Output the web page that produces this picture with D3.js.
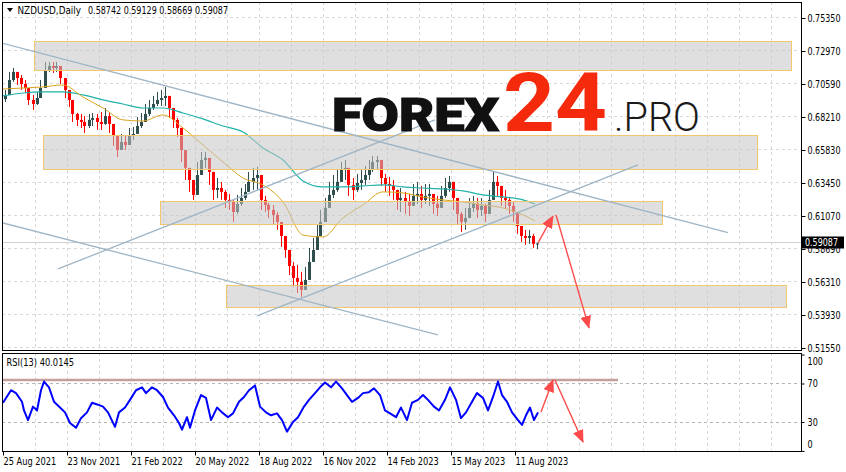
<!DOCTYPE html>
<html><head><meta charset="utf-8">
<script src="https://cdn.jsdelivr.net/npm/d3@7"></script>
<style>body{margin:0;background:#fff;}svg{display:block;}</style>
</head><body>
<svg id="c" width="846" height="472"></svg>
<script>
// ---------------- DATA ----------------
const symbolTitle = "NZDUSD,Daily";
const headerQuote = ["0.58742", "0.59129", "0.58669", "0.59087"];
const currentPrice = 0.59087;
const rsiTitle = "RSI(13) 40.0145";

const dateTickDays = [0, 64, 128, 192, 256, 320, 384, 448, 512];
const dateLabels = ["25 Aug 2021", "23 Nov 2021", "21 Feb 2022", "20 May 2022", "18 Aug 2022",
  "16 Nov 2022", "14 Feb 2023", "15 May 2023", "11 Aug 2023"];
const priceTicks = [0.75350, 0.72970, 0.70590, 0.68210, 0.65830, 0.63450, 0.61070, 0.58690, 0.56310, 0.53930, 0.51550];
const rsiTicks = [0, 30, 70, 100];
const rsiLevels = [30, 70];

// price bars, each one covering 4 trading days
const daysPerBar = 4;
const firstOpen = 0.6950;
const closes = [0.6980,0.7088,0.7146,0.7102,0.7059,0.7030,0.6944,0.6915,0.6958,0.7030,
0.7160,0.7189,0.7175,0.7189,0.7102,0.7016,0.6944,0.6843,0.6800,0.6785,
0.6756,0.6800,0.6814,0.6785,0.6771,0.6828,0.6771,0.6691,0.6583,0.6641,
0.6619,0.6684,0.6699,0.6756,0.6785,0.6843,0.6886,0.6915,0.6944,0.6958,
0.6973,0.6886,0.6800,0.6742,0.6583,0.6454,0.6367,0.6259,0.6403,0.6511,
0.6526,0.6425,0.6295,0.6309,0.6281,0.6223,0.6208,0.6136,0.6194,0.6237,
0.6281,0.6353,0.6381,0.6403,0.6223,0.6187,0.6151,0.6115,0.6064,0.5963,
0.5862,0.5747,0.5660,0.5632,0.5574,0.5646,0.5776,0.5862,0.5963,0.6064,
0.6165,0.6259,0.6295,0.6353,0.6439,0.6454,0.6331,0.6295,0.6345,0.6367,
0.6403,0.6439,0.6497,0.6511,0.6381,0.6338,0.6324,0.6295,0.6223,0.6237,
0.6208,0.6180,0.6252,0.6266,0.6223,0.6252,0.6266,0.6194,0.6165,0.6252,
0.6309,0.6353,0.6237,0.6122,0.6064,0.6093,0.6165,0.6194,0.6151,0.6180,
0.6122,0.6223,0.6353,0.6324,0.6237,0.6223,0.6180,0.6136,0.6035,0.5963,
0.5949,0.5963,0.5906,0.5909];
const highs = [0.7016,0.7146,0.7175,0.7146,0.7124,0.7088,0.7002,0.6980,0.7002,0.7088,
0.7218,0.7218,0.7218,0.7218,0.7160,0.7059,0.7002,0.6900,0.6850,0.6843,
0.6828,0.6843,0.6850,0.6843,0.6857,0.6886,0.6857,0.6749,0.6655,0.6699,
0.6691,0.6742,0.6749,0.6821,0.6850,0.6915,0.6944,0.6973,0.7002,0.7016,
0.7038,0.6958,0.6872,0.6814,0.6691,0.6547,0.6439,0.6353,0.6497,0.6569,
0.6569,0.6497,0.6403,0.6381,0.6353,0.6295,0.6266,0.6223,0.6259,0.6309,
0.6338,0.6425,0.6454,0.6461,0.6295,0.6252,0.6201,0.6187,0.6136,0.6035,
0.5934,0.5826,0.5776,0.5754,0.5704,0.5740,0.5877,0.5949,0.6043,0.6151,
0.6237,0.6353,0.6403,0.6439,0.6497,0.6511,0.6418,0.6381,0.6410,0.6439,
0.6468,0.6511,0.6540,0.6540,0.6454,0.6410,0.6389,0.6367,0.6295,0.6309,
0.6281,0.6266,0.6338,0.6353,0.6324,0.6338,0.6338,0.6266,0.6252,0.6324,
0.6381,0.6396,0.6309,0.6223,0.6136,0.6165,0.6237,0.6252,0.6237,0.6237,
0.6194,0.6295,0.6425,0.6396,0.6309,0.6295,0.6237,0.6208,0.6122,0.6021,
0.6007,0.6007,0.5978,0.5913];
const lows = [0.6929,0.6980,0.7074,0.7052,0.7016,0.6994,0.6908,0.6872,0.6908,0.6965,
0.7088,0.7146,0.7139,0.7146,0.7059,0.6958,0.6893,0.6785,0.6756,0.6742,
0.6706,0.6742,0.6756,0.6728,0.6728,0.6764,0.6706,0.6612,0.6533,0.6583,
0.6583,0.6634,0.6655,0.6706,0.6742,0.6800,0.6828,0.6872,0.6900,0.6900,
0.6900,0.6814,0.6742,0.6677,0.6497,0.6367,0.6281,0.6223,0.6331,0.6439,
0.6454,0.6331,0.6223,0.6237,0.6223,0.6165,0.6151,0.6064,0.6122,0.6180,
0.6223,0.6281,0.6295,0.6295,0.6151,0.6136,0.6093,0.6043,0.6007,0.5884,
0.5805,0.5682,0.5596,0.5552,0.5523,0.5574,0.5704,0.5805,0.5898,0.6007,
0.6093,0.6201,0.6237,0.6281,0.6353,0.6367,0.6252,0.6223,0.6281,0.6295,
0.6331,0.6367,0.6425,0.6439,0.6324,0.6281,0.6252,0.6223,0.6151,0.6136,
0.6122,0.6107,0.6180,0.6194,0.6165,0.6194,0.6180,0.6122,0.6107,0.6180,
0.6237,0.6281,0.6151,0.6050,0.5992,0.6007,0.6107,0.6136,0.6093,0.6107,
0.6064,0.6151,0.6266,0.6252,0.6180,0.6165,0.6122,0.6064,0.5978,0.5920,
0.5898,0.5906,0.5877,0.5867];

// moving averages
const maDays = [0,20,40,60,80,100,120,140,160,180,200,220,240,260,280,300,320,340,360,380,400,420,440,460,480,500,520,532];
const maFast = [0.7023,0.7030,0.7038,0.7052,0.6965,0.6886,0.6800,0.6792,0.6836,0.6742,0.6619,0.6497,0.6381,0.6331,0.6208,0.5970,0.5956,0.6093,0.6187,0.6281,0.6273,0.6244,0.6223,0.6208,0.6187,0.6165,0.6115,0.6071];
const maSlow = [0.6973,0.6994,0.7002,0.7002,0.6980,0.6944,0.6915,0.6886,0.6886,0.6850,0.6807,0.6756,0.6713,0.6598,0.6511,0.6360,0.6317,0.6317,0.6324,0.6331,0.6317,0.6309,0.6302,0.6288,0.6259,0.6245,0.6223,0.6194];

// RSI(13)
const rsiDays = [0,8,13,19,21,25,30,34,38,41,46,51,57,62,67,73,78,84,89,95,100,105,112,116,122,127,133,139,143,149,154,160,165,171,176,179,184,187,192,198,203,208,214,219,225,230,236,241,246,252,257,263,268,274,279,284,290,295,301,306,312,317,322,328,333,339,344,349,355,360,366,371,377,382,387,393,398,404,409,415,420,425,431,436,442,447,453,458,463,469,474,480,485,490,495,499,504,509,515,519,523,527,531,535];
const rsiValues = [50,63,60,51,42,32,46,42,63,72,66,51,45,40,29,24,34,40,50,48,46,40,25,40,45,53,63,66,60,66,63,56,45,37,29,22,35,24,42,58,55,32,45,40,35,39,51,56,63,68,46,40,37,39,32,20,30,35,46,53,60,66,71,66,72,65,58,51,55,60,61,65,58,42,39,35,45,32,50,53,58,53,46,42,53,66,53,34,40,51,60,55,42,56,72,58,51,40,32,27,37,45,32,40.01];

// drawn objects: support / resistance zones
const zoneStartDays = [31, 40, 157, 223];
const zoneEndDays = [788, 754, 659, 783];
const zoneTops = [0.7371, 0.6689, 0.6213, 0.5610];
const zoneBottoms = [0.7165, 0.6446, 0.6048, 0.5449];
// trend lines
const trendFromDays = [-3, -3, 55, 254];
const trendFromPrices = [0.7357, 0.6062, 0.5725, 0.5386];
const trendToDays = [725, 435, 432, 635];
const trendToPrices = [0.5987, 0.5249, 0.6800, 0.6475];
// forecast arrows (price panel)
const arrowFromDays = [535, 553];
const arrowFromPrices = [0.5913, 0.6115];
const arrowToDays = [550, 586];
const arrowToPrices = [0.6107, 0.5300];
// forecast arrows (RSI panel)
const rsiArrowFromDays = [538, 552];
const rsiArrowFromValues = [40.4, 73.7];
const rsiArrowToDays = [550, 580];
const rsiArrowToValues = [73.7, 9.2];
const rsiResistance = 73.7;
const rsiResistanceDays = [-3, 615];

// ---------------- LAYOUT ----------------
const svg = d3.select("#c");
const L = 2, R = 801, mainT = 2, mainB = 350, rsiT = 353, rsiB = 451;
const x = d3.scaleLinear().domain([0, 798]).range([3, 801]);
const y = d3.scaleLinear().domain([0.5155, 0.7535]).range([348, 18]);
const yr = d3.scaleLinear().domain([0, 100]).range([450.9, 354.6]);
const FONT = "'DejaVu Sans', Verdana, sans-serif";
const FS = 9.6;
const gridCol = "#d9d9d9";
const squeeze = (sel, k) => sel.each(function () {
  const w = this.getComputedTextLength();
  d3.select(this).attr("textLength", w * k).attr("lengthAdjust", "spacingAndGlyphs");
});
const fitTo = (sel, w) => sel.attr("textLength", w).attr("lengthAdjust", "spacingAndGlyphs");

const defs = svg.append("defs");
defs.append("clipPath").attr("id", "clipMain").append("rect")
  .attr("x", L + 0.5).attr("y", mainT + 0.5).attr("width", R - L - 1).attr("height", mainB - mainT - 1);
defs.append("clipPath").attr("id", "clipRsi").append("rect")
  .attr("x", L + 0.5).attr("y", rsiT + 0.5).attr("width", R - L - 1).attr("height", rsiB - rsiT - 1);
defs.append("marker").attr("id", "ah").attr("markerUnits", "userSpaceOnUse")
  .attr("markerWidth", 13).attr("markerHeight", 11).attr("refX", 12).attr("refY", 5.5)
  .attr("orient", "auto").append("path").attr("d", "M0,0 L13,5.5 L0,11 Z").attr("fill", "#ff4a4a");

// background
svg.append("rect").attr("width", 846).attr("height", 472).attr("fill", "#fff");

// grids
const gMain = svg.append("g").attr("clip-path", "url(#clipMain)");
const gRsi = svg.append("g").attr("clip-path", "url(#clipRsi)");
const gridDays = d3.range(32, 800, 32);
[gMain, gRsi].forEach((g, k) => {
  g.selectAll("line.vg").data(gridDays).enter().append("line")
    .attr("x1", d => Math.round(x(d)) + 0.5).attr("x2", d => Math.round(x(d)) + 0.5)
    .attr("y1", k ? rsiT : mainT).attr("y2", k ? rsiB : mainB)
    .attr("stroke", gridCol).attr("stroke-dasharray", "3,3");
});
gMain.selectAll("line.hg").data(priceTicks).enter().append("line")
  .attr("x1", L).attr("x2", R).attr("y1", d => Math.round(y(d)) - 0.5).attr("y2", d => Math.round(y(d)) - 0.5)
  .attr("stroke", gridCol).attr("stroke-dasharray", "3,3");
gRsi.selectAll("line.lv").data(rsiLevels).enter().append("line")
  .attr("x1", L).attr("x2", R).attr("y1", d => Math.round(yr(d)) + 0.5).attr("y2", d => Math.round(yr(d)) + 0.5)
  .attr("stroke", "#b4b4b4").attr("stroke-dasharray", "3,3");

// current price line
gMain.append("line").attr("x1", L).attr("x2", R)
  .attr("y1", Math.round(y(currentPrice)) - 0.5).attr("y2", Math.round(y(currentPrice)) - 0.5)
  .attr("stroke", "#cfcfcf");

// candles
const bars = closes.map((c, i) => ({ i, o: i ? closes[i - 1] : firstOpen, c, h: highs[i], l: lows[i] }));
const bull = "#2f4f4f", bear = "#ff0000";
const cx = d => Math.round(x(d.i * daysPerBar + 1.5)) + 0.5;
gMain.selectAll("line.wick").data(bars).enter().append("line")
  .attr("x1", cx).attr("x2", cx)
  .attr("y1", d => y(Math.max(d.h, d.o, d.c))).attr("y2", d => y(Math.min(d.l, d.o, d.c)))
  .attr("stroke", d => d.c >= d.o ? bull : bear).attr("stroke-width", 1);
gMain.selectAll("rect.body").data(bars).enter().append("rect")
  .attr("x", d => cx(d) - 1.5).attr("width", 3)
  .attr("y", d => y(Math.max(d.o, d.c)))
  .attr("height", d => Math.max(1, Math.abs(y(d.o) - y(d.c))))
  .attr("fill", d => d.c >= d.o ? bull : bear);

// moving averages
const maLine = vals => d3.line().x((d, i) => x(maDays[i])).y(d => y(d)).curve(d3.curveMonotoneX)(vals);
gMain.append("path").attr("d", maLine(maSlow)).attr("fill", "none").attr("stroke", "#20b2aa").attr("stroke-width", 1.2);
gMain.append("path").attr("d", maLine(maFast)).attr("fill", "none").attr("stroke", "#daa520").attr("stroke-width", 1);

// zones (semi transparent, over the bars)
zoneStartDays.forEach((s, i) => {
  gMain.append("rect")
    .attr("x", Math.round(x(s)) + 0.5).attr("y", Math.round(y(zoneTops[i])) + 0.5)
    .attr("width", Math.round(x(zoneEndDays[i]) - x(s)))
    .attr("height", Math.round(y(zoneBottoms[i]) - y(zoneTops[i])))
    .attr("fill", "#c4c4c4").attr("fill-opacity", 0.55)
    .attr("stroke", "#f2c76e").attr("stroke-width", 1);
});

// trend lines
trendFromDays.forEach((d0, i) => {
  gMain.append("line")
    .attr("x1", x(d0)).attr("y1", y(trendFromPrices[i]))
    .attr("x2", x(trendToDays[i])).attr("y2", y(trendToPrices[i]))
    .attr("stroke", "#9fb5c5").attr("stroke-width", 1.3);
});

// forecast arrows
arrowFromDays.forEach((d0, i) => {
  gMain.append("line")
    .attr("x1", x(d0)).attr("y1", y(arrowFromPrices[i]))
    .attr("x2", x(arrowToDays[i])).attr("y2", y(arrowToPrices[i]))
    .attr("stroke", "#ff4a4a").attr("stroke-width", 1.4).attr("marker-end", "url(#ah)");
});

// logo
const logo = svg.append("g");
logo.append("text").attr("x", 332).attr("y", 131).text("FOREX")
  .attr("font-family", "Roboto, 'Open Sans', sans-serif").attr("font-weight", 900).attr("font-size", 47)
  .attr("fill", "#111").attr("stroke", "#111").attr("stroke-width", 1.2)
  .attr("textLength", 167).attr("lengthAdjust", "spacingAndGlyphs");
logo.append("text").attr("x", 503).attr("y", 131).text("24")
  .attr("font-family", "Roboto, 'Open Sans', sans-serif").attr("font-weight", 700).attr("font-size", 82)
  .attr("fill", "#f5290b").attr("textLength", 104).attr("lengthAdjust", "spacingAndGlyphs");
logo.append("text").attr("x", 614).attr("y", 131).text(".PRO")
  .attr("font-family", "Roboto, 'Open Sans', sans-serif").attr("font-weight", 300).attr("font-size", 41)
  .attr("fill", "#1a1a1a").attr("textLength", 86).attr("lengthAdjust", "spacingAndGlyphs");

// RSI
gRsi.append("line").attr("x1", x(rsiResistanceDays[0])).attr("x2", x(rsiResistanceDays[1]))
  .attr("y1", yr(rsiResistance)).attr("y2", yr(rsiResistance))
  .attr("stroke", "#c4a09c").attr("stroke-width", 2.6);
gRsi.append("path")
  .attr("d", d3.line().x((d, i) => x(rsiDays[i])).y(d => yr(d))(rsiValues))
  .attr("fill", "none").attr("stroke", "#0000ff").attr("stroke-width", 2).attr("stroke-linejoin", "round");
rsiArrowFromDays.forEach((d0, i) => {
  gRsi.append("line")
    .attr("x1", x(d0)).attr("y1", yr(rsiArrowFromValues[i]))
    .attr("x2", x(rsiArrowToDays[i])).attr("y2", yr(rsiArrowToValues[i]))
    .attr("stroke", "#ff4a4a").attr("stroke-width", 1.4).attr("marker-end", "url(#ah)");
});

// panel borders
svg.append("rect").attr("x", L + 0.5).attr("y", mainT + 0.5).attr("width", R - L).attr("height", mainB - mainT)
  .attr("fill", "none").attr("stroke", "#000");
svg.append("rect").attr("x", L + 0.5).attr("y", rsiT + 0.5).attr("width", R - L).attr("height", rsiB - rsiT)
  .attr("fill", "none").attr("stroke", "#000");

// axes
const styleAxis = g => {
  g.select(".domain").remove();
  g.selectAll("text").attr("font-family", FONT).attr("font-size", FS).attr("fill", "#000");
  g.selectAll(".tick line").attr("stroke", "#000");
};
const yAxis = svg.append("g").attr("transform", `translate(${R + 0.5},0)`)
  .call(d3.axisRight(y).tickValues(priceTicks).tickFormat(d3.format(".5f")).tickSize(4).tickPadding(2));
styleAxis(yAxis);
yAxis.selectAll(".tick").attr("transform", d => `translate(0,${Math.round(y(d)) + 0.5})`);
fitTo(yAxis.selectAll(".tick text"), 33);

const rAxis = svg.append("g").attr("transform", `translate(${R + 0.5},0)`)
  .call(d3.axisRight(yr).tickValues(rsiTicks).tickSize(3).tickPadding(3));
styleAxis(rAxis);
rAxis.selectAll(".tick text").attr("dy", d => d === 100 ? "1.0em" : d === 0 ? "-0.35em" : "0.32em");
squeeze(rAxis.selectAll(".tick text"), 0.84);

const xAxis = svg.append("g").attr("transform", `translate(0,${rsiB + 0.5})`)
  .call(d3.axisBottom(x).tickValues(dateTickDays).tickFormat((d, i) => dateLabels[i]).tickSize(4).tickPadding(3));
styleAxis(xAxis);
xAxis.selectAll(".tick text").attr("text-anchor", "start").attr("x", 0);
xAxis.selectAll(".tick").attr("transform", d => `translate(${Math.round(x(d)) + 0.5},0)`);
squeeze(xAxis.selectAll(".tick text"), 0.86);

// current price label
const cy = Math.round(y(currentPrice)) - 0.5;
svg.append("rect").attr("x", R + 1).attr("y", cy - 6).attr("width", 42).attr("height", 12).attr("fill", "#000");
fitTo(svg.append("text").attr("x", R + 4).attr("y", cy + 3.5).text(currentPrice.toFixed(5))
  .attr("font-family", FONT).attr("font-size", FS).attr("fill", "#fff"), 33);

// header texts
svg.append("path").attr("d", "M7,8 L13,8 L10,12 Z").attr("fill", "#000");
fitTo(svg.append("text").attr("x", 17.5).attr("y", 14).text(symbolTitle)
  .attr("font-family", FONT).attr("font-size", FS).attr("fill", "#000"), 63.5);
fitTo(svg.append("text").attr("x", 88).attr("y", 14).text(headerQuote.join(" "))
  .attr("font-family", FONT).attr("font-size", FS).attr("fill", "#000"), 140);
fitTo(svg.append("text").attr("x", 6.5).attr("y", 366).text(rsiTitle)
  .attr("font-family", FONT).attr("font-size", FS).attr("fill", "#000"), 67.5);
</script>
</body></html>
